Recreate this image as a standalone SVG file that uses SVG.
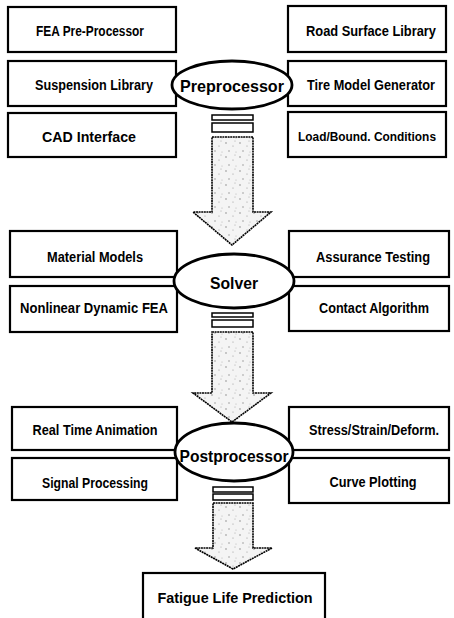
<svg xmlns="http://www.w3.org/2000/svg" width="454" height="618" viewBox="0 0 454 618">
<style>
.box{fill:#fff;stroke:#000;stroke-width:2.2}
.ell{fill:#fff;stroke:#000;stroke-width:2.8}
.t{font-family:"Liberation Sans",Arial,sans-serif;font-size:14px;font-weight:bold;fill:#000;text-anchor:middle;dominant-baseline:central}
.e{font-family:"Liberation Sans",Arial,sans-serif;font-size:17px;font-weight:bold;fill:#000;text-anchor:middle;dominant-baseline:central}
.ar{fill:url(#speck);stroke:#000;stroke-width:1.6;stroke-dasharray:2 0.6}
.st{fill:#fff;stroke:#000;stroke-width:1.5}
</style>
<defs>
<pattern id="speck" width="14" height="14" patternUnits="userSpaceOnUse">
<rect width="14" height="14" fill="#f4f4f4"/>
<circle cx="2" cy="3" r="0.7" fill="#777"/>
<circle cx="9" cy="6" r="0.6" fill="#999"/>
<circle cx="5" cy="11" r="0.7" fill="#888"/>
<circle cx="12" cy="12" r="0.5" fill="#aaa"/>
<circle cx="11" cy="1" r="0.5" fill="#999"/>
</pattern>
</defs>
<g id="connectors">
<g id="arrow1">
<rect class="st" x="212" y="115" width="41" height="5"/>
<rect class="st" x="212" y="123" width="41" height="9"/>
<polygon class="ar" points="212,137 253,137 253,212 271,212 232,245 193,212 212,212"/>
</g>
<g id="arrow2">
<rect class="st" x="212" y="313" width="41" height="4"/>
<rect class="st" x="212" y="320" width="41" height="7"/>
<polygon class="ar" points="212,332 253,332 253,393 271,393 232,422 193,393 212,393"/>
</g>
<g id="arrow3">
<rect class="st" x="213" y="487" width="40" height="5"/>
<rect class="st" x="213" y="494" width="40" height="6"/>
<polygon class="ar" points="213,503 253,503 253,548 272,548 233,569 195,548 213,548"/>
</g>
</g>
<g id="fea-pre"><rect class="box" x="8" y="7" width="168" height="45"/><text class="t" x="90" y="31" textLength="108" lengthAdjust="spacingAndGlyphs">FEA Pre-Processor</text></g>
<g id="suspension"><rect class="box" x="8" y="61" width="168" height="45"/><text class="t" x="94" y="85" textLength="118" lengthAdjust="spacingAndGlyphs">Suspension Library</text></g>
<g id="cad"><rect class="box" x="8" y="113" width="168" height="44"/><text class="t" x="89" y="137" textLength="94" lengthAdjust="spacingAndGlyphs">CAD Interface</text></g>
<g id="road"><rect class="box" x="288" y="6" width="158" height="46"/><text class="t" x="371" y="31" textLength="130" lengthAdjust="spacingAndGlyphs">Road Surface Library</text></g>
<g id="tire"><rect class="box" x="288" y="61" width="158" height="45"/><text class="t" x="371" y="85" textLength="128" lengthAdjust="spacingAndGlyphs">Tire Model Generator</text></g>
<g id="load"><rect class="box" x="288" y="112" width="158" height="45"/><text class="t" x="367" y="137" style="font-size:12.5px" textLength="138" lengthAdjust="spacingAndGlyphs">Load/Bound. Conditions</text></g>
<g id="preprocessor"><ellipse class="ell" cx="232" cy="85" rx="60" ry="24"/><text class="e" x="232" y="86" textLength="104" lengthAdjust="spacingAndGlyphs">Preprocessor</text></g>

<g id="material"><rect class="box" x="10" y="231" width="167" height="46"/><text class="t" x="95" y="257" textLength="96" lengthAdjust="spacingAndGlyphs">Material Models</text></g>
<g id="nonlinear"><rect class="box" x="10" y="286" width="167" height="46"/><text class="t" x="94" y="308" textLength="148" lengthAdjust="spacingAndGlyphs">Nonlinear Dynamic FEA</text></g>
<g id="assurance"><rect class="box" x="289" y="231" width="160" height="46"/><text class="t" x="373" y="257" textLength="114" lengthAdjust="spacingAndGlyphs">Assurance Testing</text></g>
<g id="contact"><rect class="box" x="289" y="286" width="160" height="45"/><text class="t" x="374" y="308" textLength="110" lengthAdjust="spacingAndGlyphs">Contact Algorithm</text></g>
<g id="solver"><ellipse class="ell" cx="234" cy="281" rx="60" ry="27"/><text class="e" x="234" y="283" textLength="48" lengthAdjust="spacingAndGlyphs">Solver</text></g>

<g id="realtime"><rect class="box" x="12" y="407" width="165" height="43"/><text class="t" x="95" y="430" textLength="125" lengthAdjust="spacingAndGlyphs">Real Time Animation</text></g>
<g id="signal"><rect class="box" x="12" y="458" width="165" height="42"/><text class="t" x="95" y="483" textLength="106" lengthAdjust="spacingAndGlyphs">Signal Processing</text></g>
<g id="stress"><rect class="box" x="289" y="407" width="160" height="43"/><text class="t" x="374" y="430" textLength="130" lengthAdjust="spacingAndGlyphs">Stress/Strain/Deform.</text></g>
<g id="curve"><rect class="box" x="289" y="458" width="160" height="45"/><text class="t" x="373" y="482" textLength="87" lengthAdjust="spacingAndGlyphs">Curve Plotting</text></g>
<g id="postprocessor"><ellipse class="ell" cx="234" cy="452" rx="59" ry="29"/><text class="e" x="234" y="456" textLength="109" lengthAdjust="spacingAndGlyphs">Postprocessor</text></g>

<g id="fatigue"><rect class="box" x="143" y="573" width="182" height="50"/><text class="t" x="235" y="598" textLength="155" lengthAdjust="spacingAndGlyphs">Fatigue Life Prediction</text></g>
</svg>
